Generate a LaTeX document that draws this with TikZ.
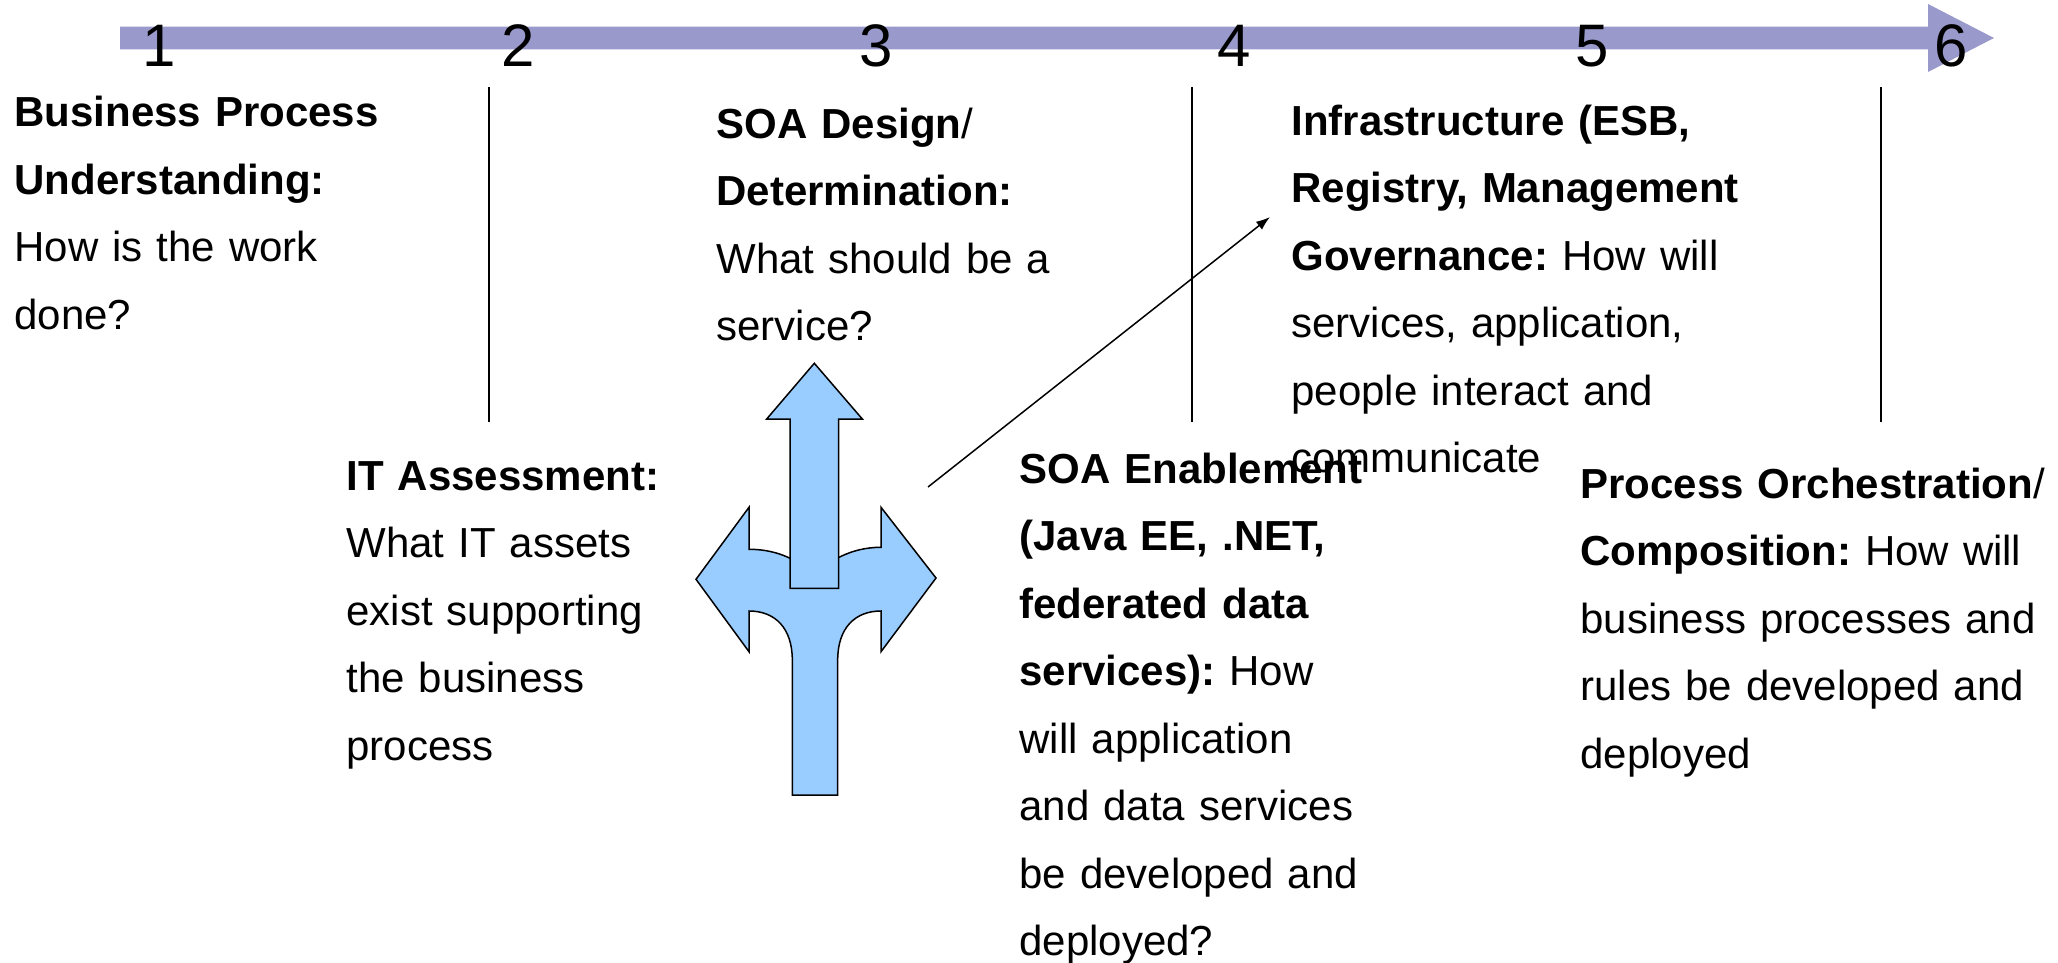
\documentclass[tikz,border=0pt]{standalone}
\usepackage{fontspec}
\setmainfont{Liberation Sans}
\usepackage{tikz}
\usetikzlibrary{arrows.meta}

\definecolor{barblue}{RGB}{153,153,204}
\definecolor{forkblue}{RGB}{153,204,255}
\newcommand{\bodyfont}{\fontsize{21}{33.75}\selectfont\frenchspacing}

\begin{document}
\begin{tikzpicture} [x = 0.5pt, y = -0.5pt,
  txt/.style = {anchor = base west, inner sep = 0pt, text width = 250pt, align = left, font = \bodyfont},
  num/.style = {anchor = base, inner sep = 0pt, font = \fontsize{30}{30}\selectfont}]
\useasboundingbox (0,0) rectangle (2058,963);
% time line
\fill [barblue] (120,26.7) -- (1928,26.7) -- (1928,4) -- (1994,38) -- (1928,72) -- (1928,49.3) -- (120,49.3) -- cycle;
\node[num](n1) at (159,66.7){1};
\node[num](n2) at (518,66.7){2};
\node[num](n3) at (876,66.7){3};
\node[num](n4) at (1234,66.7){4};
\node[num](n5) at (1592,66.7){5};
\node[num](n6) at (1951,66.7){6};
% separators
\draw [line width = 1pt] (489,87) -- (489,422);
\draw [line width = 1pt] (1192,87) -- (1192,422);
\draw [line width = 1pt] (1881,87) -- (1881,422);
% steps
\node[txt](bpu) at (14,126.7){\textbf{Business Process}\\ \textbf{Understanding:}\\ How is the work\\ done?};
\node[txt](ita) at (346,490){\textbf{IT Assessment:}\\ What IT assets\\ exist supporting\\ the business\\ process};
\node[txt](soad) at (716,138.3){\textbf{SOA Design}/\\ \textbf{Determination:}\\ What should be a\\ service?};
\node[txt](soae) at (1019,483.3){\textbf{SOA Enablement}\\ \textbf{(Java EE, .NET,}\\ \textbf{federated data}\\ \textbf{services):} How\\ will application\\ and data services\\ be developed and\\ deployed?};
\node[txt](infra) at (1291,135.5){\textbf{Infrastructure (ESB,}\\ \textbf{Registry, Management}\\ \textbf{Governance:} How will\\ services, application,\\ people interact and\\ communicate};
\node[txt](orch) at (1580,498.3){\textbf{Process Orchestration}/\\ \textbf{Composition:} How will\\ business processes and\\ rules be developed and\\ deployed};
% fork arrow
\filldraw [fill = forkblue, draw = black, line width = 0.75pt, line join = miter]
  (792.3,795) -- (792.3,660) .. controls (792.3,628) and (775,611) .. (749,611)
  -- (749,651.7) -- (696,579.3) -- (749,507.3) -- (749,549.3)
  .. controls (780,549.3) and (800,562) .. (814,575)
  .. controls (828,562) and (850,547.3) .. (881,547.3)
  -- (881,507.3) -- (936,578) -- (881,651.7) -- (881,611)
  .. controls (855,611) and (837.7,628) .. (837.7,660) -- (837.7,795) -- cycle;
\filldraw [fill = forkblue, draw = black, line width = 0.75pt, line join = miter]
  (814.3,363.3) -- (862.3,419) -- (838.7,419) -- (838.7,588.3) -- (790,588.3) -- (790,419) -- (766.7,419) -- cycle;
\coordinate (from) at (928,487);
\coordinate (to) at (1270,217);
\draw [-{Latex[length=7pt, width=5pt]}, line width = 0.75pt](from) -- (to);
\end{tikzpicture}
\end{document}
